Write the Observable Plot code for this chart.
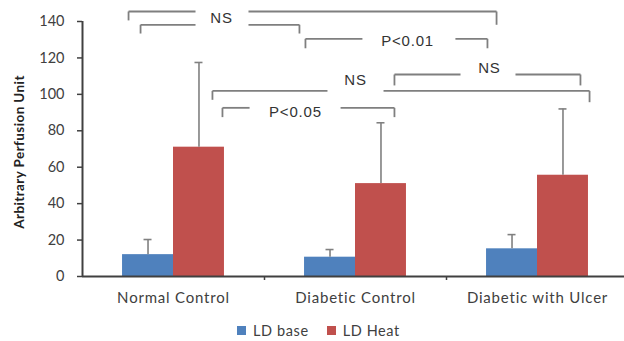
<!DOCTYPE html>
<html><head><meta charset="utf-8">
<script src="https://cdn.jsdelivr.net/npm/d3@7"></script>
<script src="https://cdn.jsdelivr.net/npm/@observablehq/plot@0.6"></script>
<style>
body{margin:0;background:#fff;}
#wrap{position:relative;width:624px;height:341px;}
.legend{position:absolute;top:322px;left:237px;display:flex;align-items:center;font-family:Lato,sans-serif;font-size:14.5px;letter-spacing:0.6px;color:#404040;}
.legend .item{display:flex;align-items:center;margin-right:18px;}
.legend .sw{width:9px;height:9px;margin-right:7px;}
</style></head><body><div id="wrap"><div id="chart"></div><div class="legend" id="legend"></div></div>
<script>
const categories = ["Normal Control", "Diabetic Control", "Diabetic with Ulcer"];
const seriesNames = ["LD base", "LD Heat"];
const ldBase = [12, 10.6, 15.2];
const ldBaseSD = [8.3, 4.2, 7.8];
const ldHeat = [71, 51, 55.6];
const ldHeatSD = [46.5, 33.4, 36.4];
const yTicks = [0, 20, 40, 60, 80, 100, 120, 140];
const yLabel = "Arbitrary Perfusion Unit";
// significance brackets, x in category units (0,1,2 = category centres), y in data units
const bracketLabels = ["NS", "", "P<0.01", "NS", "NS", "P<0.05"];
const bracketX1 = [-0.247, -0.181, 0.725, 0.214, 1.214, 0.269];
const bracketX2 = [1.775, 0.692, 1.725, 2.286, 2.236, 1.214];
const bracketY = [145.5, 138.2, 130.5, 101.9, 110.9, 92.6];
const bracketLegL = [140.6, 133.4, 125.3, 97, 104.9, 87.5];
const bracketLegR = [138.2, 133.4, 125.3, 95.7, 104.9, 87.5];
const bracketGapL = [0.121, 0.121, 1.038, 0.846, 1.577, 0.418];
const bracketGapR = [0.412, 0.412, 1.549, 1.154, 1.879, 0.918];
const bracketTextX = [0.264, 0.264, 1.286, 1.0, 1.736, 0.670];
const bracketTextY = [141.7, 141.7, 129, 107.6, 114.2, 90.2];

const colors = ["#4f81bd", "#c0504d"];
const barW = 0.28;
const cap = 0.022;

const bars = [];
categories.forEach((c, i) => {
  bars.push({cat: c, s: seriesNames[0], x1: i - barW, x2: i, v: ldBase[i], sd: ldBaseSD[i]});
  bars.push({cat: c, s: seriesNames[1], x1: i, x2: i + barW, v: ldHeat[i], sd: ldHeatSD[i]});
});
bars.forEach(d => { d.xc = (d.x1 + d.x2) / 2; d.top = d.v + d.sd; });

const segs = [];
const labels = [];
bracketLabels.forEach((lab, k) => {
  segs.push({x1: bracketX1[k], x2: bracketGapL[k], y1: bracketY[k], y2: bracketY[k]});
  segs.push({x1: bracketGapR[k], x2: bracketX2[k], y1: bracketY[k], y2: bracketY[k]});
  segs.push({x1: bracketX1[k], x2: bracketX1[k], y1: bracketY[k], y2: bracketLegL[k]});
  segs.push({x1: bracketX2[k], x2: bracketX2[k], y1: bracketY[k], y2: bracketLegR[k]});
  if (lab) labels.push({t: lab, x: bracketTextX[k], y: bracketTextY[k]});
});

const axisColor = "#404040";
const chart = Plot.plot({
  width: 624, height: 310,
  marginLeft: 82, marginRight: 0, marginTop: 21, marginBottom: 34,
  style: {fontFamily: "Lato, sans-serif", background: "#fff"},
  x: {type: "linear", domain: [-0.5, 2.478]},
  y: {domain: [0, 140]},
  marks: [
    Plot.rectY(bars, {x1: "x1", x2: "x2", y1: 0, y2: "v", fill: d => colors[seriesNames.indexOf(d.s)]}),
    Plot.ruleX(bars, {x: "xc", y1: "v", y2: "top", stroke: "#808080", strokeWidth: 1.6}),
    Plot.ruleY(bars, {y: "top", x1: d => d.xc - cap, x2: d => d.xc + cap, stroke: "#808080", strokeWidth: 1.6}),
    Plot.axisY({ticks: yTicks, tickSize: 5, tickPadding: 13, label: null, stroke: axisColor, strokeWidth: 1.5,
      fill: axisColor, fontSize: 14.5}),
    Plot.axisX({ticks: [0.5, 1.5], tickSize: 4, tickFormat: () => "", label: null, stroke: axisColor, strokeWidth: 1.5}),
    Plot.axisX({ticks: [0, 1, 2], tickSize: 0, tickPadding: 16, tickFormat: i => categories[i], label: null,
      fill: axisColor, fontSize: 15}),
    Plot.ruleY([0], {stroke: axisColor, strokeWidth: 2}),
    Plot.ruleX([-0.5], {y1: 0, y2: 140, stroke: axisColor, strokeWidth: 2}),
    Plot.text([yLabel], {frameAnchor: "left", textAnchor: "middle", rotate: -90, dx: -63, dy: 3, fontWeight: "bold", fontSize: 13.5,
      fill: "#222"}),
    Plot.link(segs, {x1: "x1", x2: "x2", y1: "y1", y2: "y2", stroke: "#7f7f7f", strokeWidth: 1.8}),
    Plot.text(labels, {x: "x", y: "y", text: "t", fontFamily: "Liberation Sans", fontSize: 15, fill: "#333"})
  ]
});
const sel = d3.select(chart);
sel.selectAll('g[font-family="Liberation Sans"] text').style("letter-spacing", "0.8px");
sel.selectAll('g[aria-label="x-axis tick label"] text').style("letter-spacing", "0.8px");
sel.selectAll('g[font-weight="bold"] text').style("letter-spacing", "0.4px");
document.getElementById("chart").appendChild(chart);

const leg = document.getElementById("legend");
seriesNames.forEach((s, i) => {
  const it = document.createElement("div"); it.className = "item";
  const sw = document.createElement("div"); sw.className = "sw"; sw.style.background = colors[i];
  const tx = document.createElement("span"); tx.textContent = s;
  it.appendChild(sw); it.appendChild(tx); leg.appendChild(it);
});
</script></body></html>
